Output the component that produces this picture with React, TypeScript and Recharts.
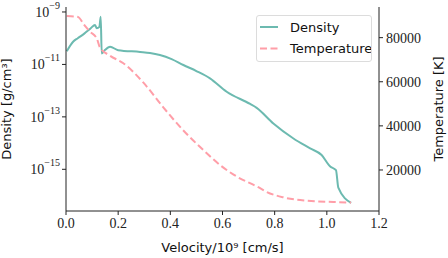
import React from 'react';
import { LineChart, Line, XAxis, YAxis, Legend, Label } from 'recharts';

// velocity in units of 1e9 cm/s
const densityVelocity = [
  0.003, 0.028, 0.045, 0.07, 0.095, 0.111, 0.118, 0.128, 0.133, 0.137, 0.15, 0.169, 0.2,
  0.284, 0.322, 0.36, 0.405, 0.45, 0.5, 0.552, 0.616, 0.706, 0.731, 0.795, 0.872, 0.936,
  0.98, 1.012, 1.035, 1.044, 1.093,
];
const densityValues = [
  3.2e-11, 7.5e-11, 1.0e-10, 1.5e-10, 2.4e-10, 3.2e-10, 2.4e-10, 2.7e-10, 6.6e-10, 2.6e-11,
  3.6e-11, 4.7e-11, 3.5e-11, 3.0e-11, 2.75e-11, 2.3e-11, 1.6e-11, 9.5e-12, 5.6e-12, 2.95e-12,
  9.1e-13, 3.1e-13, 2.2e-13, 5.6e-14, 1.5e-14, 6.3e-15, 3.5e-15, 1.3e-15, 9.3e-16, 2.0e-16,
  5.2e-17,
];
const temperatureVelocity = [
  0.003, 0.046, 0.069, 0.092, 0.118, 0.13, 0.169, 0.22, 0.296, 0.373, 0.45, 0.526, 0.59,
  0.655, 0.737, 0.77, 0.833, 0.923, 1.025, 1.093,
];
const temperatureValues = [
  89800, 89400, 85900, 82700, 79600, 75600, 71800, 68400, 59700, 48400, 37900, 29100, 22300,
  17000, 12200, 10000, 7600, 6100, 5500, 5200,
];

const velocityTicks = [0, 0.2, 0.4, 0.6, 0.8, 1.0, 1.2];
const densityTicks = [1e-15, 1e-13, 1e-11, 1e-9];
const temperatureTicks = [20000, 40000, 60000, 80000];

const densityData = densityVelocity.map((v, i) => ({ v, density: densityValues[i] }));
const temperatureData = temperatureVelocity.map((v, i) => ({ v, temperature: temperatureValues[i] }));

const TEAL = '#6cbab0';
const PINK = '#ff9ea8';
const AXIS = '#222';
const serif = "'Liberation Serif', 'DejaVu Serif', serif";
const sans = "'DejaVu Sans', sans-serif";

const PowerTick = ({ x, y, payload }: any) => {
  const exp = Math.round(Math.log10(payload.value));
  return (
    <text x={x} y={y} textAnchor="end" fill={AXIS} fontFamily={serif}>
      <tspan fontSize={14} dy={5}>10</tspan>
      <tspan fontSize={10} dy={-8}>{'\u2212' + Math.abs(exp)}</tspan>
    </text>
  );
};

const LegendBox = ({ payload }: any) => (
  <div
    style={{
      width: 116,
      height: 47,
      border: '1px solid #dcdcdc',
      borderRadius: 3,
      background: 'rgba(255,255,255,0.85)',
      boxSizing: 'border-box',
      position: 'relative',
    }}
  >
    <svg width={114} height={45} style={{ position: 'absolute', left: 0, top: 0 }}>
      {(payload || []).map((entry: any, i: number) => (
        <g key={entry.value}>
          <line
            x1={3}
            x2={21}
            y1={11 + i * 21.6}
            y2={11 + i * 21.6}
            stroke={entry.color}
            strokeWidth={2}
            strokeDasharray={entry.payload?.strokeDasharray}
          />
          <text x={33} y={15.5 + i * 21.6} fontSize={13} fontFamily={sans} fill="#111">
            {entry.value}
          </text>
        </g>
      ))}
    </svg>
  </div>
);

const App = () => {
  return (
    <div style={{ position: 'absolute', left: 0, top: 0, background: '#fff' }}>
      <LineChart width={448} height={258} margin={{ top: 7, right: 0, bottom: 0, left: 0 }}>
        <XAxis
          dataKey="v"
          type="number"
          domain={[0, 1.2]}
          ticks={velocityTicks}
          tickFormatter={(t: number) => t.toFixed(1)}
          allowDuplicatedCategory={false}
          height={47}
          tickSize={4}
          tickMargin={3}
          stroke={AXIS}
          tick={{ fill: AXIS, fontSize: 14, fontFamily: serif }}
        >
          <Label
            value="Velocity/10⁹ [cm/s]"
            position="insideBottom"
            offset={6}
            style={{ fill: '#111', fontSize: 13, fontFamily: sans }}
          />
        </XAxis>
        <XAxis
          xAxisId="top"
          orientation="top"
          type="number"
          domain={[0, 1.2]}
          height={0}
          tick={false}
          tickLine={false}
          stroke={AXIS}
        />
        <YAxis
          yAxisId="density"
          scale="log"
          type="number"
          domain={[Math.pow(10, -16.59), Math.pow(10, -8.81)]}
          allowDataOverflow
          ticks={densityTicks}
          width={66}
          tickSize={4}
          tick={<PowerTick />}
          stroke={AXIS}
        >
          <Label
            value="Density [g/cm³]"
            angle={-90}
            position="insideLeft"
            offset={6}
            style={{ textAnchor: 'middle', fill: '#111', fontSize: 13, fontFamily: sans }}
          />
        </YAxis>
        <YAxis
          yAxisId="temperature"
          orientation="right"
          type="number"
          domain={[1400, 93900]}
          allowDataOverflow
          ticks={temperatureTicks}
          width={69}
          tickSize={4}
          tickMargin={3}
          stroke={AXIS}
          tick={{ fill: AXIS, fontSize: 14, fontFamily: serif }}
        >
          <Label
            value="Temperature [K]"
            angle={-90}
            position="insideRight"
            offset={10}
            style={{ textAnchor: 'middle', fill: '#111', fontSize: 13, fontFamily: sans }}
          />
        </YAxis>
        <Legend
          layout="vertical"
          align="center"
          verticalAlign="middle"
          wrapperStyle={{ position: 'absolute', left: 256, top: 15, width: 116 }}
          content={<LegendBox />}
        />
        <Line
          yAxisId="density"
          data={densityData}
          dataKey="density"
          name="Density"
          type="monotone"
          stroke={TEAL}
          strokeWidth={2}
          dot={false}
          isAnimationActive={false}
        />
        <Line
          yAxisId="temperature"
          data={temperatureData}
          dataKey="temperature"
          name="Temperature"
          type="monotone"
          stroke={PINK}
          strokeWidth={2}
          strokeDasharray="7 3.5"
          dot={false}
          isAnimationActive={false}
        />
      </LineChart>
    </div>
  );
};

export default App;
